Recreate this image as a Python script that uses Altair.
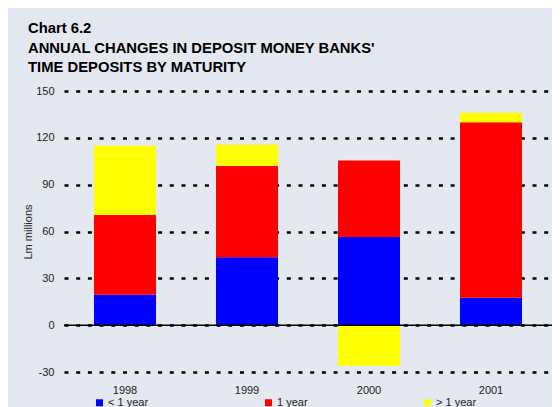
import altair as alt
import pandas as pd

years = ["1998", "1999", "2000", "2001"]
series = ["< 1 year", "1 year", "> 1 year"]
lt_1y = [19.5, 43.5, 56.5, 17.5]
eq_1y = [51.0, 58.5, 49.0, 112.5]
gt_1y = [44.5, 13.5, -26.0, 6.0]
colors = ["#0000FF", "#FF0000", "#FFFF00"]
y_ticks = [-30, 0, 30, 60, 90, 120, 150]

rows = []
for i, y in enumerate(years):
    for k, (s, vals) in enumerate(zip(series, [lt_1y, eq_1y, gt_1y])):
        rows.append({"year": y, "series": s, "value": vals[i], "order": k})
df = pd.DataFrame(rows)

bg = "#E4E8F0"
font = "Liberation Sans"

yscale = alt.Scale(domain=[-30, 150], nice=False)

bars = alt.Chart(df).mark_bar(size=62).encode(
    x=alt.X("year:N", sort=years, title=None,
            scale=alt.Scale(paddingInner=0.5, paddingOuter=0.25),
            axis=alt.Axis(domain=False, ticks=False, labelAngle=0, labelPadding=12,
                          labelFontSize=11, labelColor="#222", labelFont=font)),
    y=alt.Y("value:Q", stack="zero", scale=yscale, title="Lm millions",
            axis=alt.Axis(values=y_ticks, domain=False, ticks=False, labelPadding=10,
                          labelExpr="'' + datum.value",
                          labelFontSize=11, labelColor="#222", labelFont=font,
                          grid=True, gridColor="#000", gridDash=[4, 7.7], gridWidth=2.5,
                          titleFontSize=11, titleFont=font, titleFontWeight="normal",
                          titleColor="#222", titlePadding=2)),
    color=alt.Color("series:N", sort=series,
                    scale=alt.Scale(domain=series, range=colors),
                    legend=alt.Legend(title=None, orient="none", legendX=30, legendY=306,
                                      direction="horizontal", columns=3, gridAlign="each",
                                      symbolType="square", symbolSize=49, symbolStrokeWidth=0,
                                      labelFontSize=11, labelFont=font, labelColor="#222",
                                      columnPadding=114, labelOffset=3)),
    order=alt.Order("order:Q"),
)

zero = alt.Chart(pd.DataFrame({"v": [0]})).mark_rule(color="#000", strokeWidth=1.5).encode(
    y=alt.Y("v:Q", scale=yscale)
)

chart = alt.layer(bars, zero).properties(
    width=488, height=281,
    autosize=alt.AutoSizeParams(type="none"),
    padding={"left": 56, "top": 83, "right": 0, "bottom": 35},
    background=bg,
    title=alt.TitleParams(
        ["Chart 6.2", "ANNUAL CHANGES IN DEPOSIT MONEY BANKS'", "TIME DEPOSITS BY MATURITY"],
        anchor="start", frame="group", dx=-36, fontSize=14.8, font=font, fontWeight="bold",
        color="#000", lineHeight=19.5, offset=10,
    ),
).configure_view(stroke=None)

chart.save("out.html", embed_options={"renderer": "svg", "actions": False})
